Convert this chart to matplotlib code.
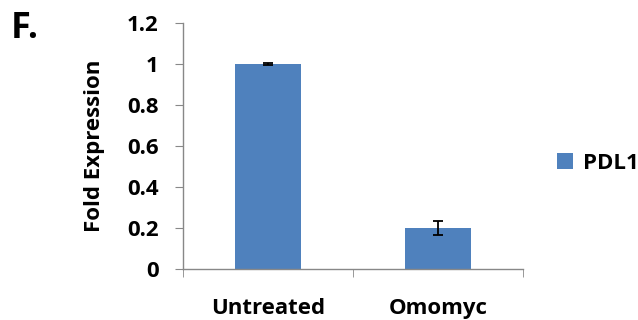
import matplotlib.pyplot as plt

# Data
categories = ['Untreated', 'Omomyc']
values = [1.0, 0.2]
errors = [0.003, 0.035]
series_name = 'PDL1'
y_ticks = [0, 0.2, 0.4, 0.6, 0.8, 1, 1.2]
y_tick_labels = ['0', '0.2', '0.4', '0.6', '0.8', '1', '1.2']

plt.rcParams['font.family'] = ['Open Sans', 'DejaVu Sans']
plt.rcParams['font.weight'] = 'bold'

fs = 16

fig = plt.figure(figsize=(6.38, 3.2), dpi=100)
ax = fig.add_axes([0.287, 0.159, 0.533, 0.769])

x = list(range(len(categories)))
ax.bar(x, values, width=0.39, color='#4F81BD', label=series_name, zorder=2)
ax.errorbar(x, values, yerr=errors, fmt='none', ecolor='black',
            elinewidth=1.3, capsize=3.3, capthick=1.3, zorder=3)

ax.set_xlim(-0.5, len(categories) - 0.5)
ax.set_ylim(0, 1.2)
ax.set_yticks(y_ticks)
ax.set_yticklabels(y_tick_labels, fontsize=fs, fontweight='bold')
ax.set_xticks(x)
ax.set_xticklabels(categories, fontsize=fs, fontweight='bold')
ax.set_xticks([i - 0.5 for i in range(len(categories) + 1)], minor=True)
ax.tick_params(axis='x', which='major', length=0, pad=21)
ax.tick_params(axis='x', which='minor', length=5.5, color='#888888', direction='out')
ax.tick_params(axis='y', length=5.5, color='#888888', pad=12)

for side in ['top', 'right']:
    ax.spines[side].set_visible(False)
for side in ['left', 'bottom']:
    ax.spines[side].set_color('#888888')
    ax.spines[side].set_linewidth(1.0)

ax.set_ylabel('Fold Expression', fontsize=fs, fontweight='bold', labelpad=16)

fig.text(0.017, 0.881, 'F.', fontsize=26, fontweight='bold', va='baseline', ha='left')

ax.legend(loc='center left', bbox_to_anchor=(1.1, 0.43), frameon=False,
          borderpad=0, borderaxespad=0,
          handlelength=0.7, handleheight=0.7, handletextpad=0.45,
          prop={'weight': 'bold', 'size': fs})

fig.savefig('out.png', dpi=100)
